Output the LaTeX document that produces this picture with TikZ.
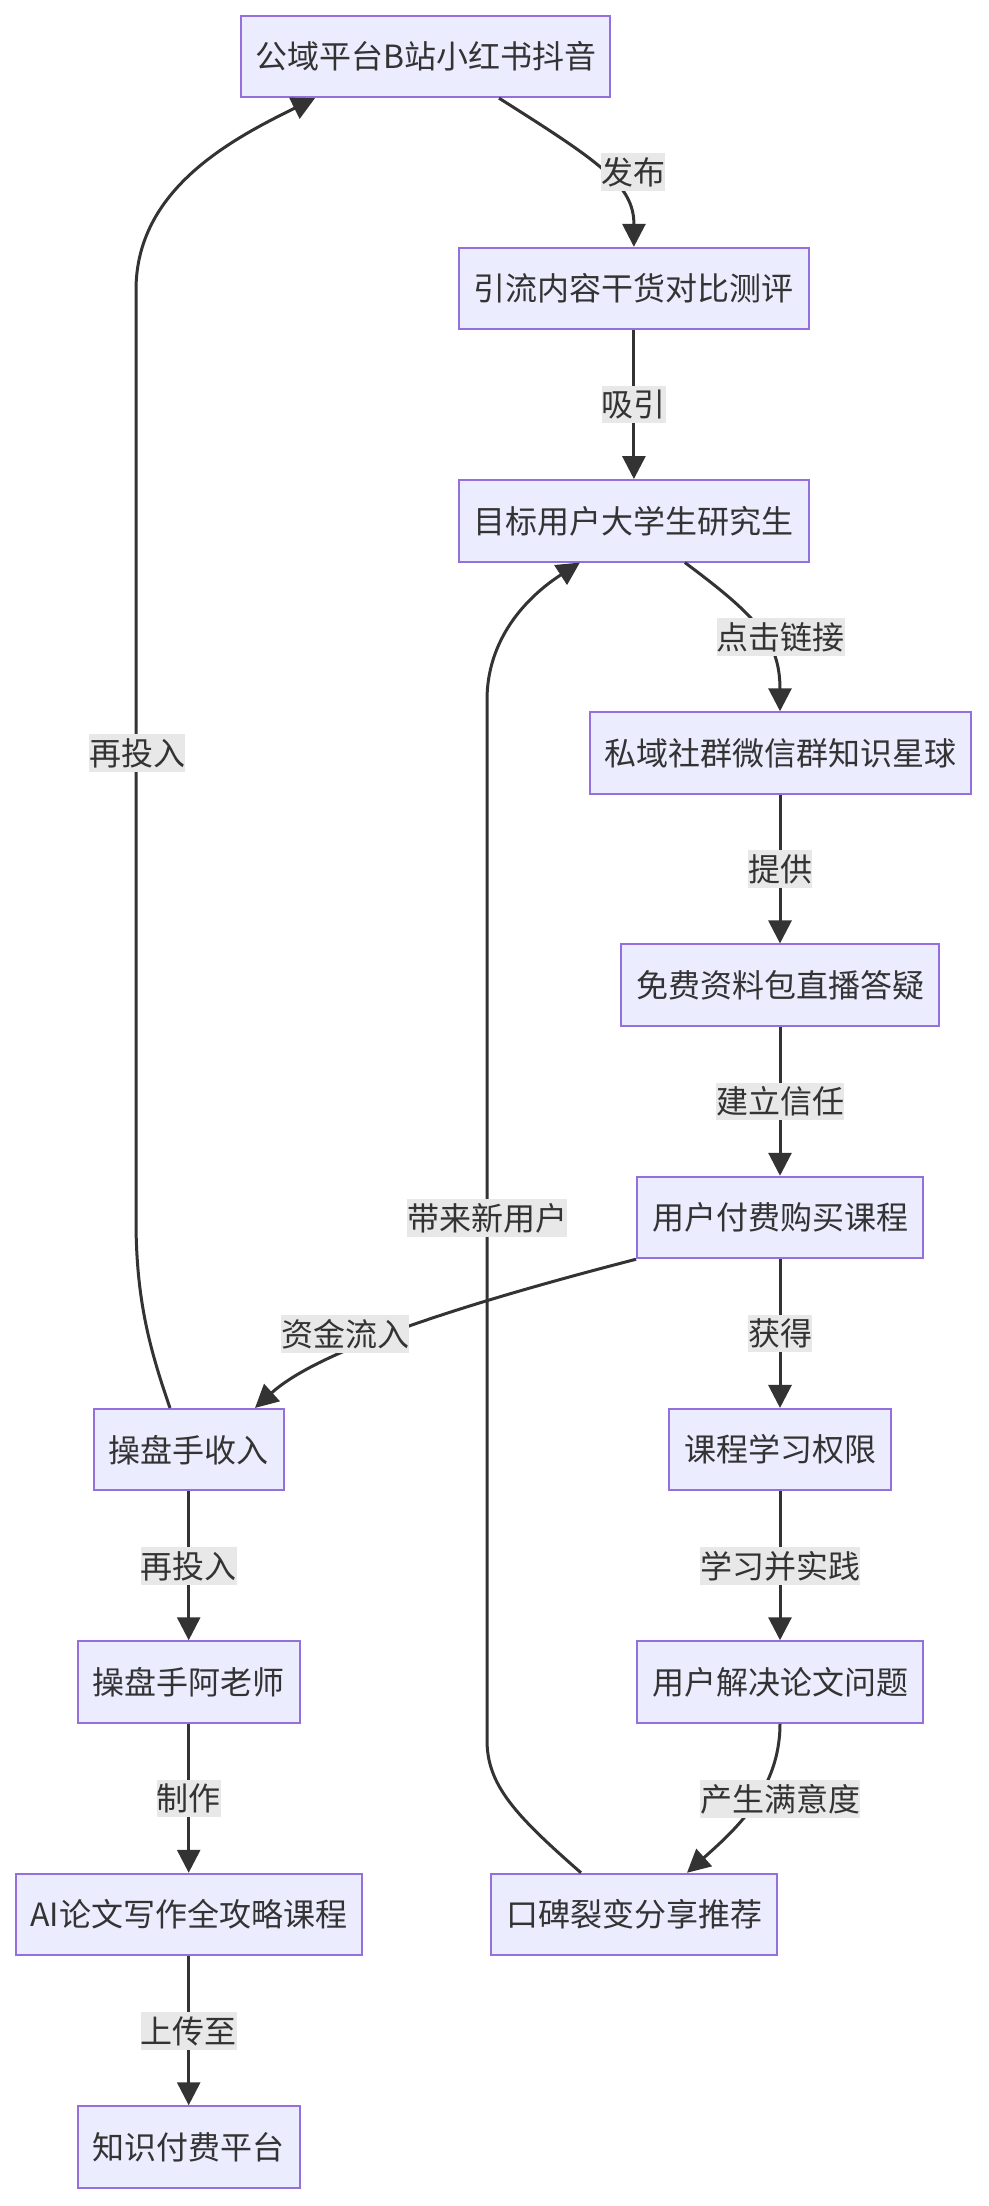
\documentclass[tikz,border=0pt]{standalone}
\usepackage{fontspec}
\setmainfont{Noto Sans CJK SC}
\usetikzlibrary{arrows.meta}
\usepackage{xcolor}
\definecolor{boxfill}{HTML}{ECECFF}
\definecolor{boxline}{HTML}{9370DB}
\definecolor{flowline}{HTML}{333333}
\definecolor{labelfill}{HTML}{E8E8E8}
\definecolor{textgray}{HTML}{333333}

\tikzset{
  box/.style={draw=boxline, fill=boxfill, line width=2pt, minimum height=81.5pt,
    inner sep=0pt, text=textgray, font=\fontsize{32}{38}\selectfont},
  flowlabel/.style={fill=labelfill, inner sep=0pt, minimum height=37.5pt,
    text=textgray, font=\fontsize{32}{38}\selectfont},
  flow/.style={draw=flowline, line width=3pt, -{Triangle[length=23pt, width=23pt]}}
}

\begin{document}
\begin{tikzpicture}[x=1pt, y=-1pt]

  \useasboundingbox (0, 0) rectangle (988, 2206);

  % Right column: traffic funnel
  \node[box, minimum width=368.7pt] (pub) at (425.7, 56.4) {公域平台B站小红书抖音};
  \node[box, minimum width=350pt] (cnt) at (633.9, 288.6) {引流内容干货对比测评};
  \node[box, minimum width=350pt] (usr) at (633.9, 520.8) {目标用户大学生研究生};
  \node[box, minimum width=381pt] (grp) at (780, 753) {私域社群微信群知识星球};
  \node[box, minimum width=318pt] (free) at (780, 985.2) {免费资料包直播答疑};
  \node[box, minimum width=286pt] (buy) at (780, 1217.5) {用户付费购买课程};
  \node[box, minimum width=222pt] (acc) at (780, 1449.7) {课程学习权限};
  \node[box, minimum width=286pt] (slv) at (780, 1682) {用户解决论文问题};
  \node[box, minimum width=286pt] (wom) at (634, 1914.5) {口碑裂变分享推荐};

  % Left column: operator side
  \node[box, minimum width=190pt] (inc) at (188.7, 1449.7) {操盘手收入};
  \node[box, minimum width=222pt] (tch) at (188.7, 1682) {操盘手阿老师};
  \node[box, minimum width=346pt] (crs) at (188.7, 1914.5) {AI论文写作全攻略课程};
  \node[box, minimum width=222pt] (plat) at (188.7, 2147) {知识付费平台};

  % Funnel flows
  \draw[flow] ([xshift=73.3pt]pub.south) .. controls (600, 162) and (634, 185) .. (cnt.north);
  \draw[flow] (cnt.south) -- (usr.north);
  \draw[flow] ([xshift=51pt]usr.south) .. controls (755, 615) and (780, 640) .. (grp.north);
  \draw[flow] (grp.south) -- (free.north);
  \draw[flow] (free.south) -- (buy.north);
  \draw[flow] (buy.south) -- (acc.north);
  \draw[flow] (acc.south) -- (slv.north);
  \draw[flow] (slv.south) .. controls (780, 1790) and (735, 1830) .. ([xshift=53pt]wom.north);

  % Word of mouth loop back to users
  \draw[flow] ([xshift=-53pt]wom.north) .. controls (515, 1815) and (487, 1785) .. (487, 1740)
    -- (487, 700) .. controls (487, 640) and (525, 598) .. ([xshift=-54pt]usr.south);

  % Money flows
  \draw[flow] (buy.south west) .. controls (420, 1315) and (310, 1358) .. ([xshift=66.3pt]inc.north);
  \draw[flow] ([xshift=-18.7pt]inc.north) .. controls (150, 1350) and (136, 1300) .. (136, 1220)
    -- (136, 290) .. controls (136, 190) and (230, 140) .. ([xshift=-110.7pt]pub.south);
  \draw[flow] (inc.south) -- (tch.north);
  \draw[flow] (tch.south) -- (crs.north);
  \draw[flow] (crs.south) -- (plat.north);

  % Edge labels
  \node[flowlabel] (lpub) at (633, 172) {发布};
  \node[flowlabel] (latt) at (633.9, 404.7) {吸引};
  \node[flowlabel] (lclk) at (780.5, 637) {点击链接};
  \node[flowlabel] (lgiv) at (780, 869) {提供};
  \node[flowlabel] (ltru) at (780, 1101.3) {建立信任};
  \node[flowlabel] (lget) at (780, 1333.6) {获得};
  \node[flowlabel] (llrn) at (780, 1565.8) {学习并实践};
  \node[flowlabel] (lsat) at (780, 1799) {产生满意度};
  \node[flowlabel] (lnew) at (487, 1218) {带来新用户};
  \node[flowlabel] (lcash) at (345, 1334) {资金流入};
  \node[flowlabel] (lreup) at (137, 753) {再投入};
  \node[flowlabel] (lreinv) at (188.7, 1566) {再投入};
  \node[flowlabel] (lmake) at (188.7, 1798.7) {制作};
  \node[flowlabel] (lupl) at (188.7, 2031) {上传至};

\end{tikzpicture}
\end{document}
